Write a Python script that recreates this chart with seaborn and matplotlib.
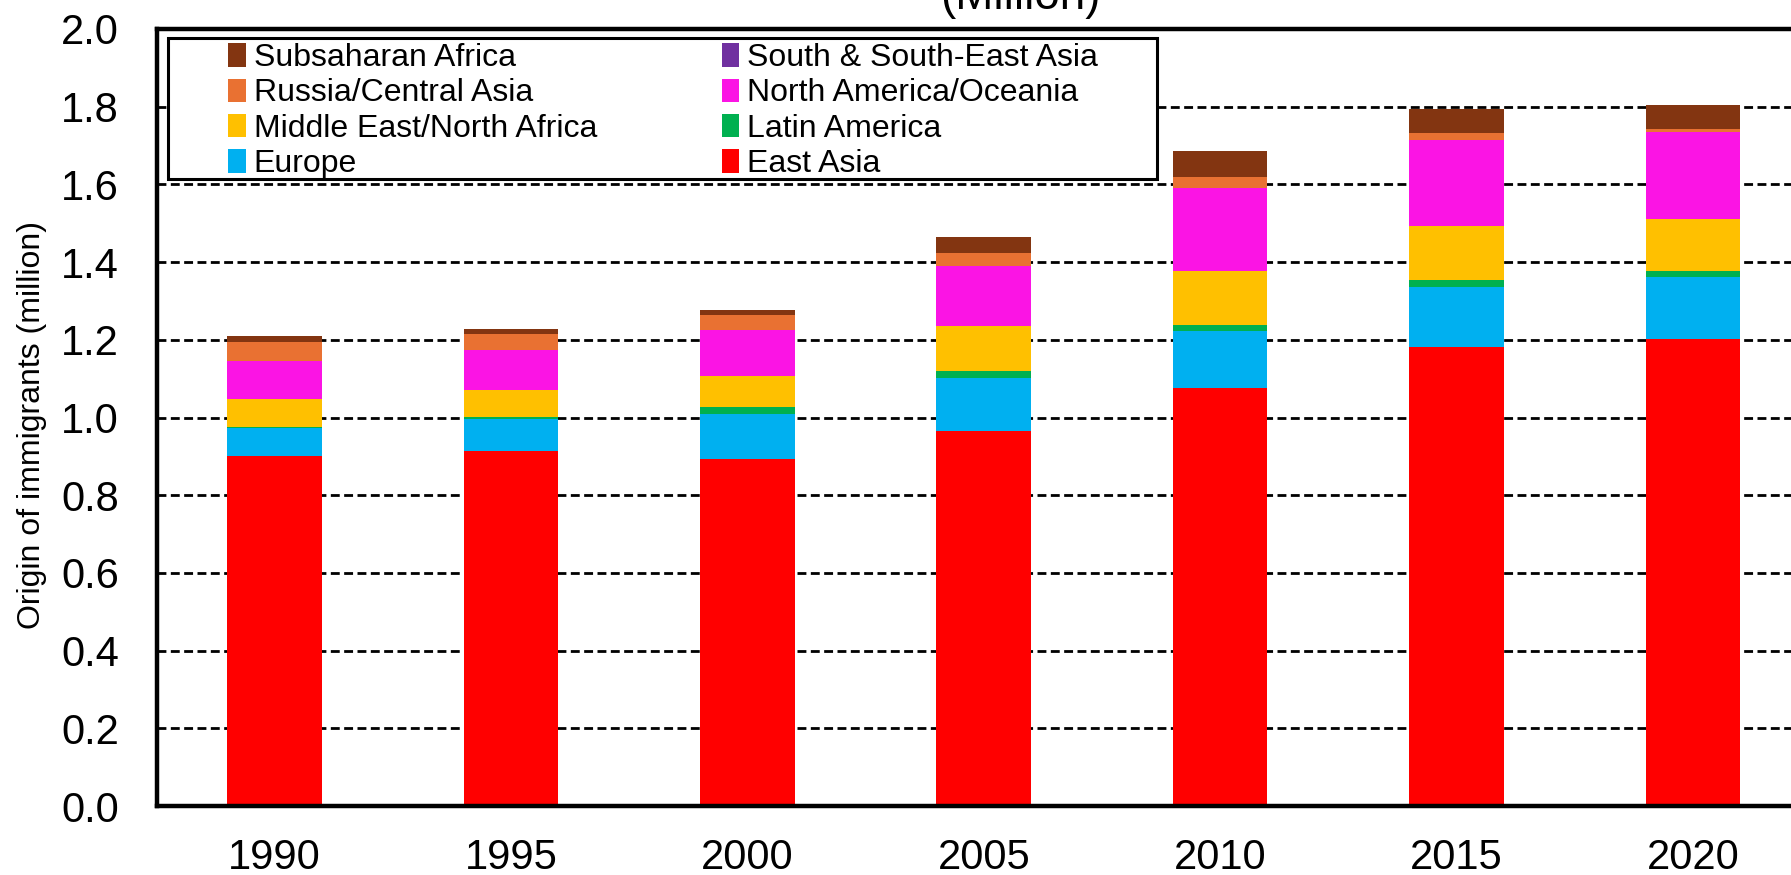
import numpy as np
import matplotlib
matplotlib.use("Agg")
import matplotlib.pyplot as plt
import seaborn as sns
from matplotlib.patches import Rectangle, Patch

# data (million)
years = ['1990', '1995', '2000', '2005', '2010', '2015', '2020']
east_asia = [0.900, 0.915, 0.892, 0.966, 1.076, 1.182, 1.203]
europe = [0.074, 0.081, 0.118, 0.136, 0.147, 0.155, 0.158]
latin_america = [0.002, 0.006, 0.018, 0.018, 0.016, 0.018, 0.017]
middle_east = [0.071, 0.069, 0.080, 0.115, 0.139, 0.137, 0.134]
north_america = [0.099, 0.102, 0.117, 0.156, 0.212, 0.221, 0.224]
russia = [0.048, 0.043, 0.040, 0.033, 0.029, 0.020, 0.007]
south_asia = [0.0, 0.0, 0.0, 0.0, 0.0, 0.0, 0.0]
subsaharan = [0.016, 0.012, 0.011, 0.040, 0.066, 0.062, 0.062]

# stacking order, bottom to top
series = [
    ('East Asia', east_asia, '#FF0000'),
    ('Europe', europe, '#00B0F0'),
    ('Latin America', latin_america, '#00B050'),
    ('Middle East/North Africa', middle_east, '#FFC000'),
    ('North America/Oceania', north_america, '#FB14E4'),
    ('Russia/Central Asia', russia, '#E97132'),
    ('South & South-East Asia', south_asia, '#7030A0'),
    ('Subsaharan Africa', subsaharan, '#833511'),
]

sns.set_style("white")
plt.rcParams['font.family'] = ['Liberation Sans', 'DejaVu Sans']
for k in ['text.color', 'axes.labelcolor', 'xtick.color', 'ytick.color']:
    plt.rcParams[k] = 'black'

W, H = 1791, 875
fig = plt.figure(figsize=(W / 100, H / 100), dpi=100)
left, bottom, top = 156.5, 806, 29
right = 1811
ax = fig.add_axes([left / W, 1 - bottom / H, (right - left) / W, (bottom - top) / H])

# cumulative tops, drawn largest first so lower layers sit on top
cum = np.cumsum([np.array(s[1]) for s in series], axis=0)
for i in range(len(series) - 1, -1, -1):
    sns.barplot(x=years, y=cum[i], color=series[i][2], saturation=1,
                width=0.4, linewidth=0, errorbar=None, ax=ax)

ax.set_xlim(-0.5, 6.5)
ax.set_ylim(0, 2.0)
ax.set_yticks(np.arange(0, 2.01, 0.2))
ax.set_yticklabels(['%.1f' % v for v in np.arange(0, 2.01, 0.2)])
ax.set_axisbelow(True)
ax.yaxis.grid(True, color='black', linestyle=(0, (3.2, 1.6)), linewidth=2.0)
ax.xaxis.grid(False)
for sp in ax.spines.values():
    sp.set_color('black')
    sp.set_linewidth(3.2)
ax.tick_params(axis='y', length=0, pad=27, labelsize=30)
ax.tick_params(axis='x', length=0, pad=23, labelsize=30)
ax.set_xticks([-0.5], minor=True)
ax.tick_params(axis='x', which='minor', length=11, width=1, direction='out')
ax.set_xlabel('')
ax.set_ylabel('Origin of immigrants (million)', fontsize=23)
ax.yaxis.set_label_coords(-0.066, 0.49)

# legend box
box = Rectangle((168 / W, 1 - 179 / H), 989 / W, 141.3 / H, transform=fig.transFigure,
                facecolor='white', edgecolor='black', linewidth=2.2, zorder=3, clip_on=False)
ax.add_patch(box)

leg_order = ['Subsaharan Africa', 'Russia/Central Asia', 'Middle East/North Africa', 'Europe',
             'South & South-East Asia', 'North America/Oceania', 'Latin America', 'East Asia']
colors = {s[0]: s[2] for s in series}
handles = [Patch(facecolor=colors[n], edgecolor='none', label=n) for n in leg_order]
leg = ax.legend(handles=handles, ncol=2, loc='upper left', frameon=False,
                bbox_to_anchor=(228 / W, 1 - 43 / H), bbox_transform=fig.transFigure,
                fontsize=23, borderpad=0, borderaxespad=0, handlelength=0.55,
                handleheight=0.75, handletextpad=0.25, labelspacing=0.17, columnspacing=3.9)
leg.set_zorder(5)

fig.text(1020 / W, 1 - 9 / H, '(Million)', ha='center', va='baseline', fontsize=33)

fig.savefig('out.png', dpi=100)
